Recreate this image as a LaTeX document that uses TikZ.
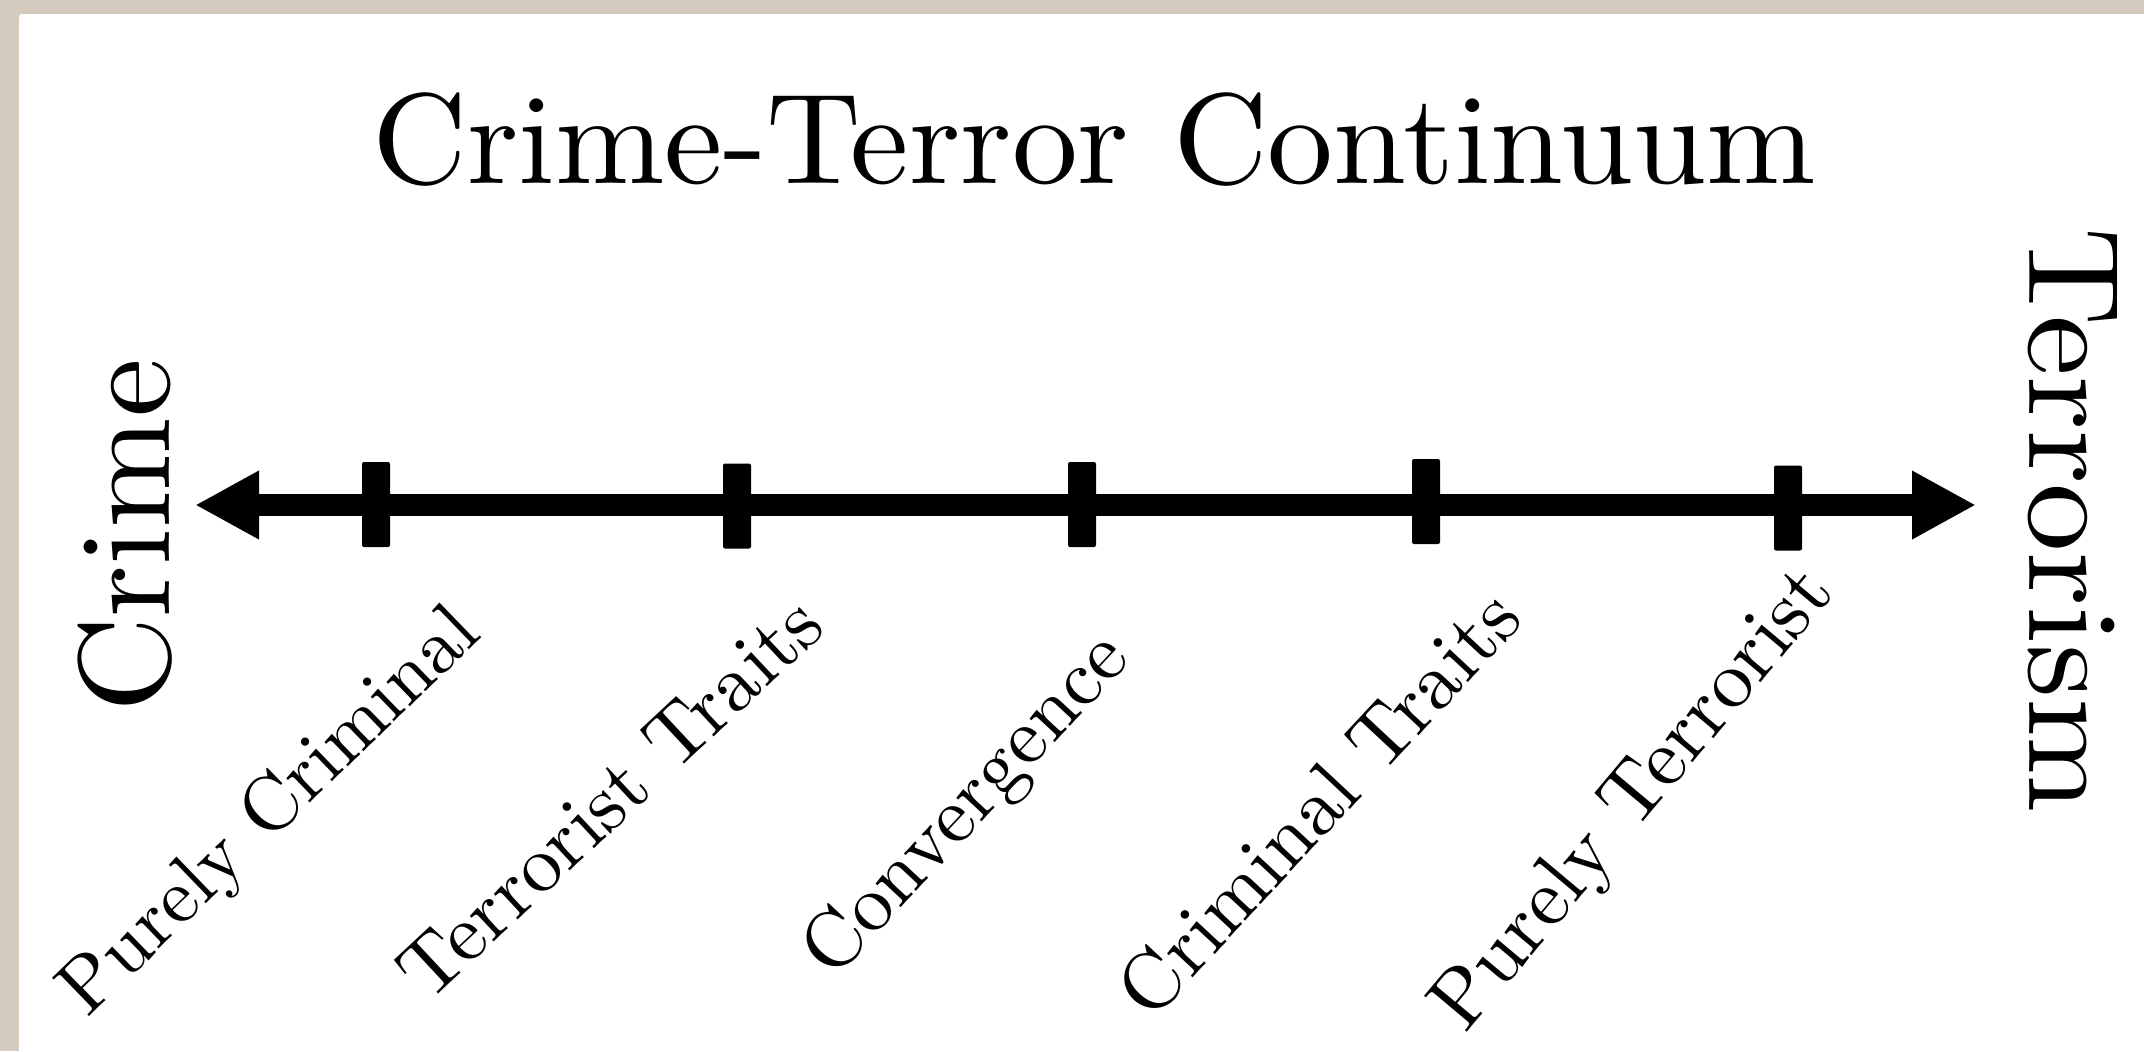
\documentclass[tikz,border=0pt]{standalone}
\usepackage{fontspec}
\newfontfamily\gar{lmroman10-regular}[Extension=.otf]
\usetikzlibrary{arrows.meta}
\definecolor{framebeige}{RGB}{212,203,190}
\tikzset{
  bigtext/.style={font=\gar\fontsize{65}{70}\selectfont, inner sep=0pt},
  labeltext/.style={font=\gar\fontsize{39}{42}\selectfont, inner sep=0pt, rotate=45},
  tickbox/.style={fill=black, draw=none, minimum width=14pt, minimum height=42.5pt, inner sep=0pt, rounded corners=1pt},
  axisline/.style={line width=11pt, {Triangle[length=32pt,width=32pt]}-{Triangle[length=32pt,width=32pt]}}
}
\begin{document}
\begin{tikzpicture}[x=0.5pt,y=-0.5pt]
\useasboundingbox (0,0) rectangle (2144,1051);
\fill[framebeige] (0,0) rectangle (2144,1051);
\fill[white, rounded corners=1.5pt] (19,14) rectangle (2170,1080);
% title and ends
\node[bigtext, font=\gar\fontsize{64.4}{70}\selectfont, anchor=base] (title) at (1094,183) {\scalebox{1.02}[1]{Crime-Terror Continuum}};
\node[bigtext, rotate=90, anchor=base] (crime) at (169,536) {\scalebox{1.02}[1]{Crime}};
\node[bigtext, rotate=-90, anchor=base] (terror) at (2029,520) {\scalebox{1.055}[1]{Terrorism}};
% axis
\coordinate (left) at (195,505);
\coordinate (right) at (1976,505);
\draw[axisline] (left) -- (right);
% ticks
\node[tickbox] (t1) at (376,504.5) {};
\node[tickbox] (t2) at (737,506) {};
\node[tickbox] (t3) at (1082,504.5) {};
\node[tickbox] (t4) at (1426,501.5) {};
\node[tickbox] (t5) at (1788,508) {};
% labels
\node[labeltext, rotate=-1] (l1) at (272,813) {Purely Criminal};
\node[labeltext, rotate=-2, font=\gar\fontsize{40.5}{42}\selectfont] (l2) at (610,797) {Terrorist Traits};
\node[labeltext, rotate=2, font=\gar\fontsize{40}{42}\selectfont] (l3) at (968,807) {Convergence};
\node[labeltext, rotate=2, font=\gar\fontsize{40.5}{42}\selectfont] (l4) at (1318,803) {Criminal Traits};
\node[labeltext, rotate=5, anchor=base west, font=\gar\fontsize{41}{42}\selectfont] (l5) at (1465,1035) {Purely Terrorist};
\end{tikzpicture}
\end{document}
